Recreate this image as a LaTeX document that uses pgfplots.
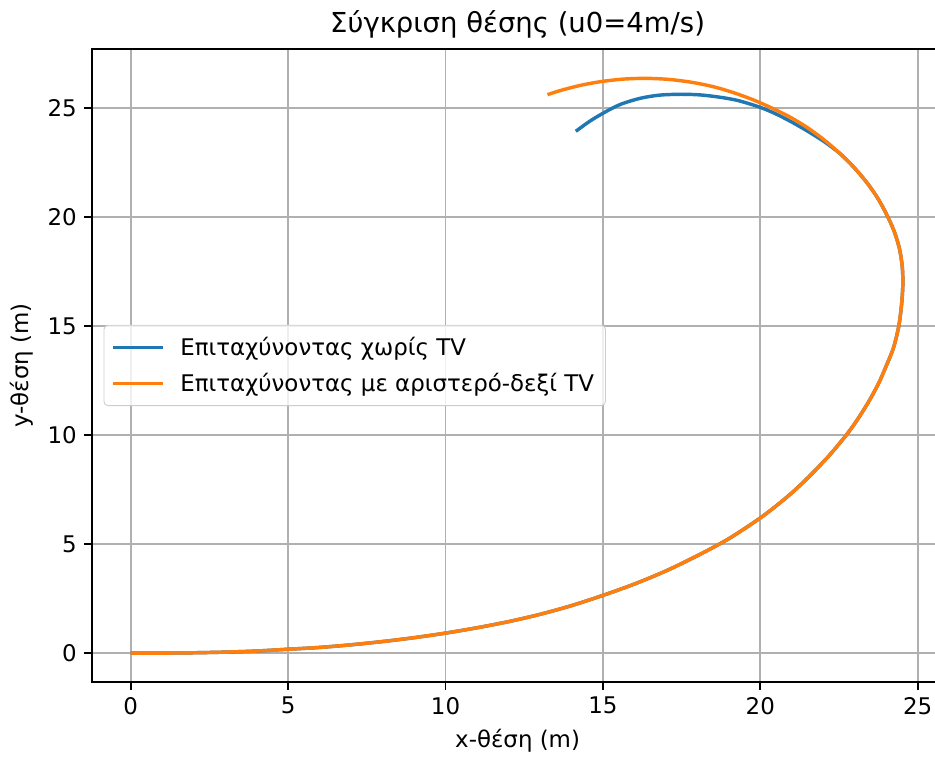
\documentclass[border=0pt]{standalone}
\usepackage{fontspec}
\setmainfont{DejaVu Sans}
\usepackage{pgfplots}
\pgfplotsset{compat=1.18}
\usetikzlibrary{calc}
\definecolor{c0}{HTML}{1F77B4}
\definecolor{c1}{HTML}{FF7F0E}
\definecolor{gridc}{HTML}{B0B0B0}
\begin{document}
\begin{tikzpicture}
\begin{axis}[
  scale only axis, width=408.6pt, height=303.9pt,
  xmin=-1.229, xmax=25.81, ymin=-1.32, ymax=27.72,
  xtick={0,5,...,25}, ytick={0,5,...,25},
  grid=major, grid style={color=gridc, line width=0.85pt},
  axis line style={line width=0.85pt},
  tick style={line width=0.85pt, black},
  tick align=outside, major tick length=3.8pt,
  xtick pos=bottom, ytick pos=left,
  tick label style={font=\fontsize{11}{13}\selectfont},
  /pgf/number format/assume math mode=true,
  xlabel={x-θέση (m)}, ylabel={y-θέση (m)},
  label style={font=\fontsize{11}{13}\selectfont},
  title={Σύγκριση θέσης (u0=4m/s)},
  title style={font=\fontsize{13.2}{15}\selectfont, yshift=-4.5pt},
  legend style={at={(0,0.5)}, anchor=west, xshift=5.5pt,
    draw=black!20, rounded corners=2pt, fill=white, fill opacity=0.8, text opacity=1,
    font=\fontsize{11}{13}\selectfont, inner sep=3.5pt, row sep=3pt},
  legend cell align=left,
  legend image code/.code={\draw[#1] (0pt,0pt) -- (24pt,0pt); \path (29.5pt,0pt);},
]
\coordinate (SW) at (rel axis cs:0,0);
\coordinate (NW) at (rel axis cs:0,1);
\addplot[c0, line width=1.65pt, smooth] coordinates {
(0,0)(1,0.003)(2,0.018)(3,0.048)(4,0.098)(5,0.18)(6,0.263)(7,0.384)(8,0.533)(9,0.71)(10,0.92)
(11,1.165)(12,1.445)(13,1.78)(14,2.18)(15,2.65)(16,3.17)(17,3.77)(18,4.47)(19,5.25)(19.96,6.16)
(20.5,6.75)(21,7.35)(21.53,8.07)(22.18,9.05)(22.73,10.0)(23.08,10.7)(23.45,11.55)(23.76,12.38)
(23.98,13.1)(24.23,14.0)(24.4,15.0)(24.49,16.0)(24.53,16.93)(24.51,17.75)(24.42,18.57)
(24.25,19.37)(24.01,20.14)(23.72,20.9)(23.38,21.6)(22.98,22.28)(22.54,22.91)
(22.05,23.45)(21.5,23.95)(20.97,24.39)(20.45,24.77)(19.96,25.06)(19.3,25.35)(18.74,25.5)
(18.1,25.61)(17.47,25.64)(16.8,25.6)(16.2,25.46)(15.6,25.2)(15.14,24.88)(14.6,24.42)(14.14,23.94)
};
\addlegendentry{Επιταχύνοντας χωρίς TV}
\addplot[c1, line width=1.65pt, smooth] coordinates {
(0,0)(1,0.003)(2,0.018)(3,0.048)(4,0.098)(5,0.18)(6,0.263)(7,0.384)(8,0.533)(9,0.71)(10,0.92)
(11,1.165)(12,1.445)(13,1.78)(14,2.18)(15,2.65)(16,3.17)(17,3.77)(18,4.47)(19,5.25)(19.96,6.16)
(20.5,6.75)(21,7.35)(21.53,8.07)(22.18,9.05)(22.73,10.0)(23.08,10.7)(23.45,11.55)(23.76,12.38)
(23.98,13.1)(24.23,14.0)(24.4,15.0)(24.49,16.0)(24.53,16.93)(24.51,17.75)(24.42,18.57)
(24.25,19.37)(24.01,20.14)(23.72,20.9)(23.38,21.6)(22.98,22.28)(22.54,22.91)
(22.07,23.5)(21.56,24.05)(21.0,24.55)(20.41,24.98)(19.8,25.37)(19.16,25.71)(18.5,25.99)
(17.82,26.19)(17.11,26.32)(16.4,26.37)(15.69,26.34)(14.98,26.23)(14.29,26.05)(13.62,25.8)(13.24,25.62)
};
\addlegendentry{Επιταχύνοντας με αριστερό-δεξί TV}
\end{axis}
\pgfresetboundingbox
\useasboundingbox ($(SW)+(-44.2pt,-36.5pt)$) rectangle ($(NW)+(404.7pt,23.5pt)$);
\end{tikzpicture}
\end{document}
